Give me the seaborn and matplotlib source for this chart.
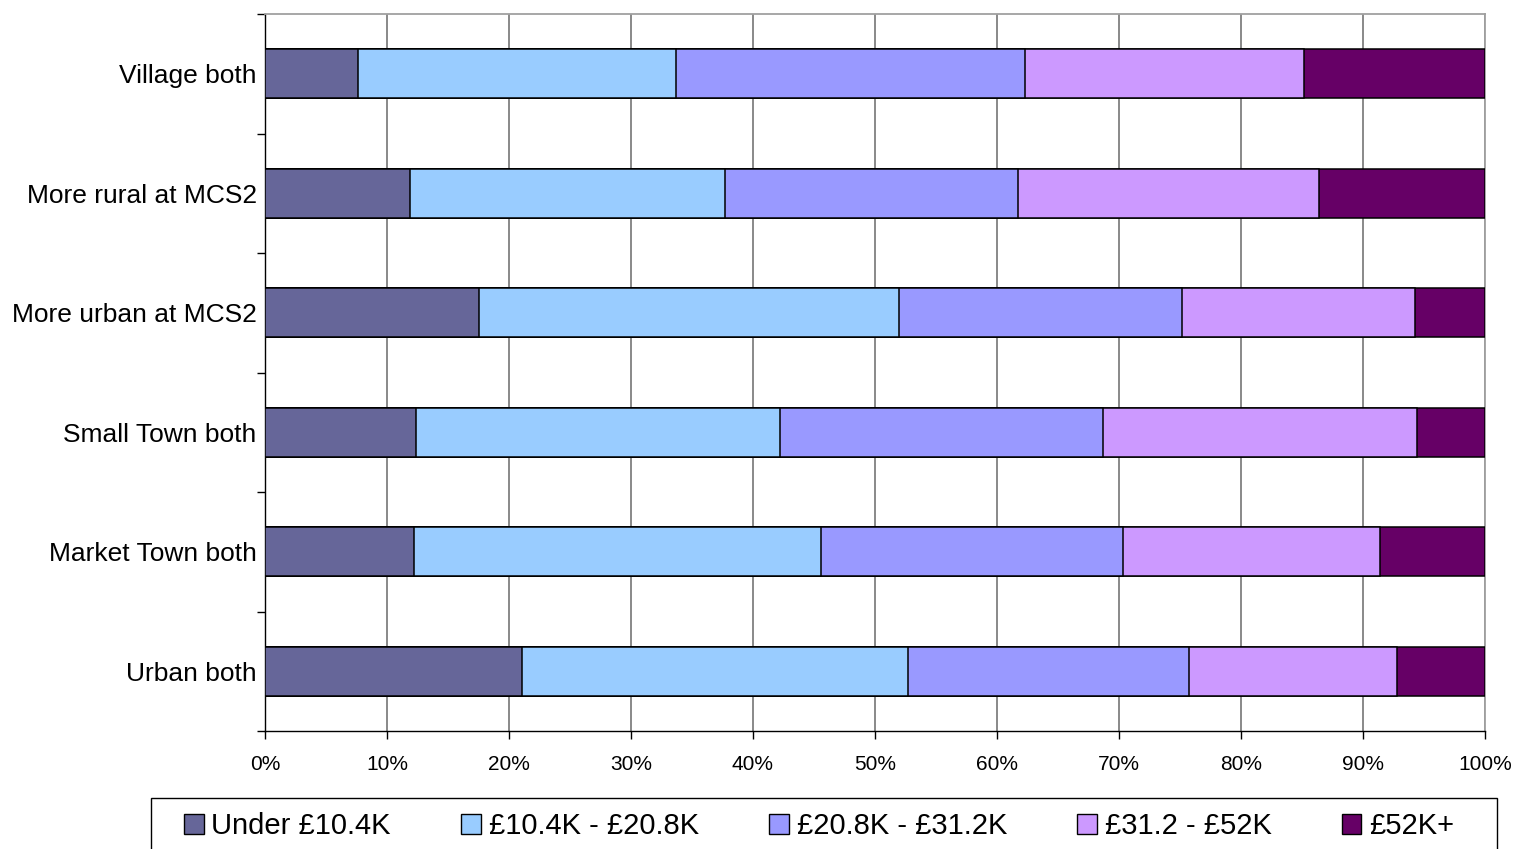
import numpy as np
import pandas as pd
import matplotlib
matplotlib.use("Agg")
import matplotlib.pyplot as plt
from matplotlib.patches import Patch, Rectangle
from matplotlib.ticker import FixedLocator, PercentFormatter
import seaborn as sns

# Household income bands by area type (% of families)
areas = ["Village both", "More rural at MCS2", "More urban at MCS2",
         "Small Town both", "Market Town both", "Urban both"]
bands = ["Under \u00a310.4K", "\u00a310.4K - \u00a320.8K", "\u00a320.8K - \u00a331.2K",
         "\u00a331.2 - \u00a352K", "\u00a352K+"]
under_10k = [7.6, 11.9, 17.5, 12.4, 12.2, 21.1]
k10_20 = [26.1, 25.8, 34.5, 29.8, 33.4, 31.6]
k20_31 = [28.6, 24.0, 23.2, 26.5, 24.7, 23.0]
k31_52 = [22.9, 24.7, 19.1, 25.7, 21.1, 17.1]
k52_plus = [14.8, 13.6, 5.7, 5.6, 8.6, 7.2]
colors = ["#666699", "#99CCFF", "#9999FF", "#CC99FF", "#660066"]

sns.set_theme(style="white")
plt.rcParams["font.family"] = ["Liberation Sans", "DejaVu Sans"]
plt.rcParams["text.color"] = "black"
plt.rcParams["xtick.color"] = "black"
plt.rcParams["ytick.color"] = "black"

series = np.array([under_10k, k10_20, k20_31, k31_52, k52_plus])
shares = series / series.sum(axis=0) * 100
cum = np.cumsum(shares, axis=0)

fig = plt.figure(figsize=(15.16, 8.49), dpi=100)
ax = fig.add_axes([265 / 1516, 1 - 731 / 849, 1220 / 1516, 717 / 849])

# Stacked bars: draw cumulative totals from the widest down
for i in range(len(bands) - 1, -1, -1):
    df = pd.DataFrame({"area": areas, "value": cum[i]})
    sns.barplot(data=df, x="value", y="area", orient="h", color=colors[i],
                width=0.41, edgecolor="black", linewidth=1.1, saturation=1,
                ax=ax, zorder=3)

ax.set_xlim(0, 100)
ax.set_ylim(len(areas) - 0.5, -0.5)
ax.set_xlabel("")
ax.set_ylabel("")

# Gridlines and frame
ax.xaxis.set_major_locator(FixedLocator(np.arange(0, 101, 10)))
ax.xaxis.set_major_formatter(PercentFormatter(decimals=0))
ax.grid(axis="x", color="#808080", linewidth=1.3, zorder=0)
ax.set_axisbelow(True)
for side in ["top", "right"]:
    ax.spines[side].set_color("#A0A0A0")
    ax.spines[side].set_linewidth(1.3)
for side in ["left", "bottom"]:
    ax.spines[side].set_color("black")
    ax.spines[side].set_linewidth(1.0)

ax.tick_params(axis="x", which="major", direction="out", length=6, width=1,
               color="black", labelcolor="black", labelsize=15, pad=11, bottom=True)
ax.tick_params(axis="y", which="major", length=0, labelsize=19, pad=6,
               labelcolor="black", left=True)
ax.yaxis.set_minor_locator(FixedLocator(np.arange(-0.5, len(areas), 1)))
ax.tick_params(axis="y", which="minor", direction="out", length=6, width=1,
               color="black", left=True)
ax.set_yticks(range(len(areas)))
ax.set_yticklabels(areas)
ax.set_facecolor("white")

# Legend in a framed strip along the bottom edge
fig.patches.append(Rectangle((151 / 1516, -0.05), (1497 - 151) / 1516,
                             (849 - 798) / 849 + 0.05, transform=fig.transFigure,
                             facecolor="white", edgecolor="black", linewidth=1.0))
handles = [Patch(facecolor=c, edgecolor="black", linewidth=1.0) for c in colors]
fig.legend(handles, bands, loc="center", bbox_to_anchor=(819 / 1516, 1 - 826 / 849),
           ncol=5, frameon=False, fontsize=21, handlelength=0.68, handleheight=0.68,
           handletextpad=0.27, columnspacing=2.4, borderaxespad=0, labelcolor="black")

fig.savefig("out.png", dpi=100, facecolor="white")
